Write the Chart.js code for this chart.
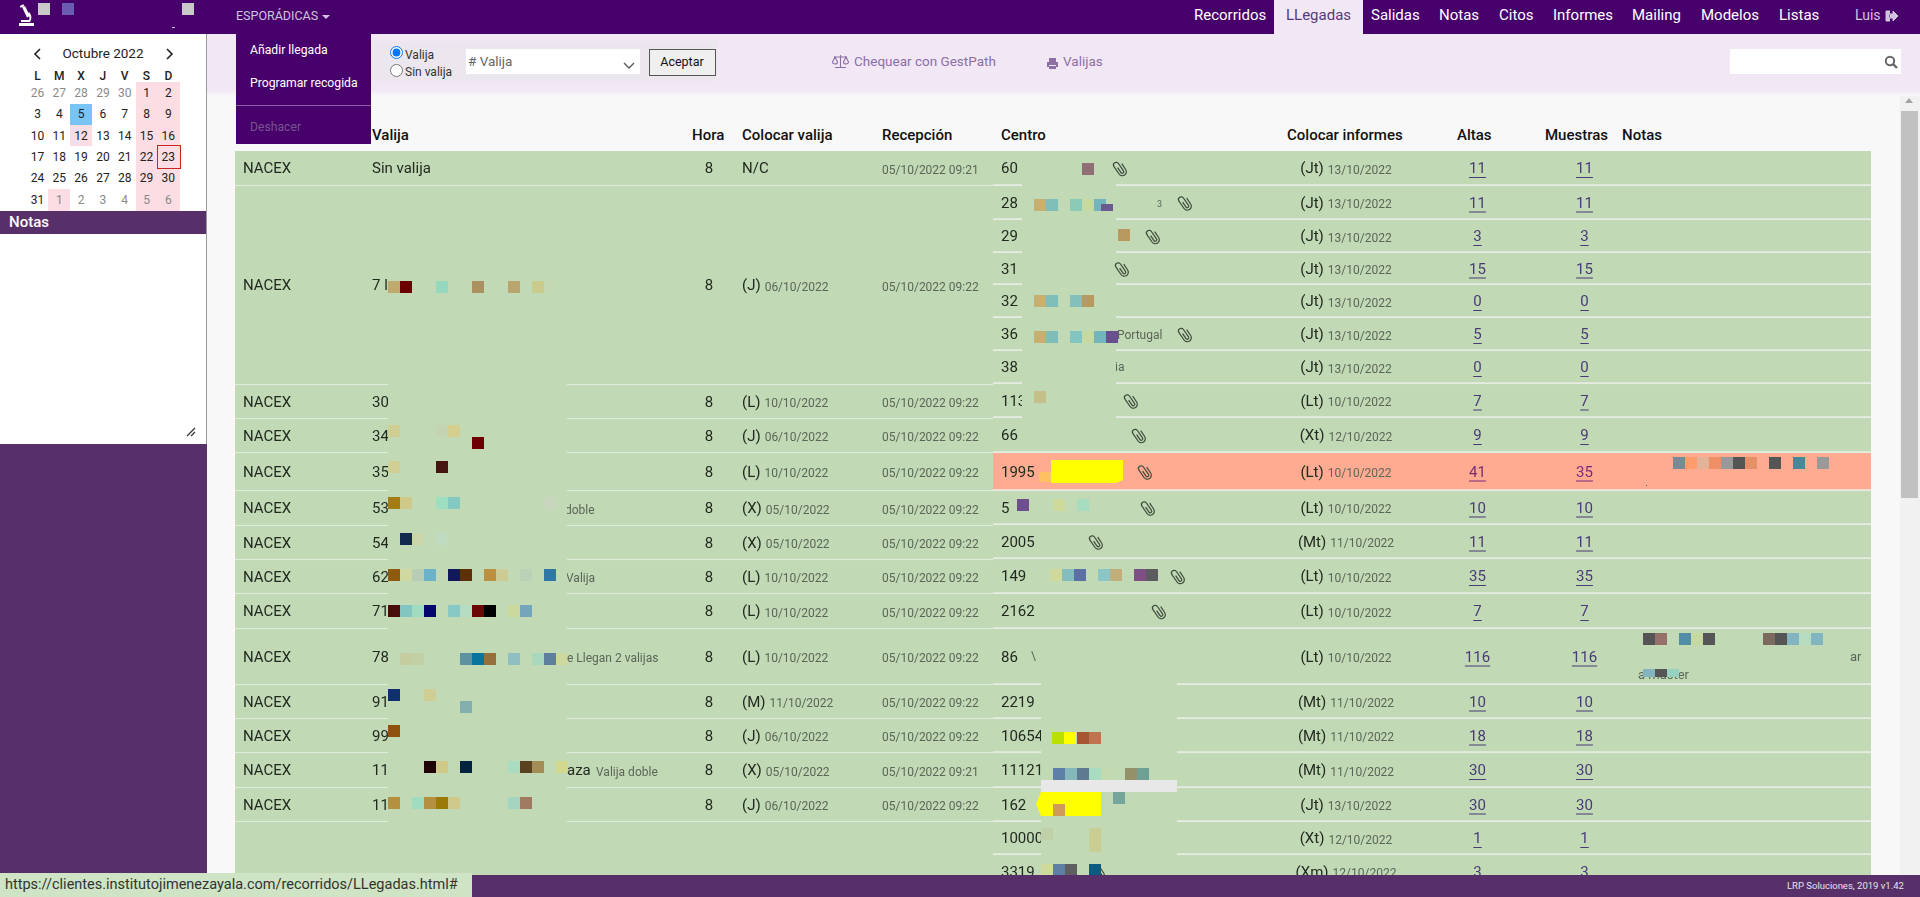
<!DOCTYPE html>
<html lang="es"><head><meta charset="utf-8"><title>LLegadas</title>
<script src="https://cdn.jsdelivr.net/npm/chart.js@4"></script>
<style>
html,body{margin:0;padding:0;width:1920px;height:897px;overflow:hidden;background:#f8f8f8;font-family:Roboto,sans-serif}
.b{position:absolute}
.t{position:absolute;white-space:nowrap;line-height:20px;height:20px}
canvas{display:block}
</style></head><body>
<div id="page"></div>
<div class="b" id="wl" style="left:235px;top:151px;width:758px;height:724px"><canvas id="cl"></canvas></div>
<div class="b" id="wr" style="left:993px;top:151px;width:878px;height:724px"><canvas id="cr"></canvas></div>
<div id="over"></div>
<script>
/* ---------- data ---------- */
const columnas = ['Valija','Hora','Colocar valija','Recepción','Centro','Colocar informes','Altas','Muestras','Notas'];
const transportista = ['NACEX','NACEX','NACEX','NACEX','NACEX','NACEX','NACEX','NACEX','NACEX','NACEX','NACEX','NACEX','NACEX','NACEX',''];
const valijaNum  = ['Sin valija','7 l','30','34','35','53','54','62','71','78','91','99','11','11',''];
const valijaHora = ['8','8','8','8','8','8','8','8','8','8','8','8','8','8',''];
const valijaDia  = ['N/C','(J)','(L)','(J)','(L)','(X)','(X)','(L)','(L)','(L)','(M)','(J)','(X)','(J)',''];
const valijaFecha= ['','06/10/2022','10/10/2022','06/10/2022','10/10/2022','05/10/2022','05/10/2022','10/10/2022','10/10/2022','10/10/2022','11/10/2022','06/10/2022','05/10/2022','06/10/2022',''];
const recepcion  = ['05/10/2022 09:21','05/10/2022 09:22','05/10/2022 09:22','05/10/2022 09:22','05/10/2022 09:22','05/10/2022 09:22','05/10/2022 09:22','05/10/2022 09:22','05/10/2022 09:22','05/10/2022 09:22','05/10/2022 09:22','05/10/2022 09:22','05/10/2022 09:21','05/10/2022 09:22',''];
const centros = ['60','28','29','31','32','36','38','113','66','1995','5','2005','149','2162','86','2219','10654','11121','162','10000','3319'];
const informeDia = ['(Jt)','(Jt)','(Jt)','(Jt)','(Jt)','(Jt)','(Jt)','(Lt)','(Xt)','(Lt)','(Lt)','(Mt)','(Lt)','(Lt)','(Lt)','(Mt)','(Mt)','(Mt)','(Jt)','(Xt)','(Xm)'];
const informeFecha = ['13/10/2022','13/10/2022','13/10/2022','13/10/2022','13/10/2022','13/10/2022','13/10/2022','10/10/2022','12/10/2022','10/10/2022','10/10/2022','11/10/2022','10/10/2022','10/10/2022','10/10/2022','11/10/2022','11/10/2022','11/10/2022','13/10/2022','12/10/2022','12/10/2022'];
const altas    = [11,11,3,15,0,5,0,7,9,41,10,11,35,7,116,10,18,30,30,1,3];
const muestras = [11,11,3,15,0,5,0,7,9,35,10,11,35,7,116,10,18,30,30,1,3];
const centroConClip = ['60','28','29','31','36','113','66','1995','5','2005','149','2162','3319'];
const centroAlerta = ['1995'];
const meses = 'Octubre 2022';
const diasSemana = ['L','M','X','J','V','S','D'];
const semanas = [[26,27,28,29,30,1,2],[3,4,5,6,7,8,9],[10,11,12,13,14,15,16],[17,18,19,20,21,22,23],[24,25,26,27,28,29,30],[31,1,2,3,4,5,6]];
const navItems = ['Recorridos','LLegadas','Salidas','Notas','Citos','Informes','Mailing','Modelos','Listas'];

/* ---------- layout (page pixels) ---------- */
const TOP = 151;
const alturaValija = [35,199,34,34,38,35,34,34,35,56,34,34,35,34,67];
const alturaCentro = [35,34,33,32,33,33,33,34,35,38,34,34,35,35,56,34,34,35,34,33,34];
const GREEN = '#c1d9b5', SALMON = '#ffab91';
const clipX = {'60':1120,'28':1185,'29':1153,'31':1122,'36':1185,'113':1131,'66':1139,'1995':1145,'5':1148,'2005':1096,'149':1178,'2162':1159,'3319':1098};
const parchesL = [[388,380,179,448]];
const parchesR = [[1022,178,94,245],[1041,632,136,243]];
const bloques = (y,list)=>list.map(([x,c,h])=>[x,y,h||12,c]);
const mosaicoL = [].concat(
 bloques(281,[[388,'#c0a96c'],[400,'#6b0000'],[436,'#95d8bd'],[472,'#ab9060'],[508,'#b9a56e'],[532,'#c9cc8c'],[544,'#c4d8b4']]),
 bloques(425,[[388,'#cfcf95'],[436,'#c5d3b5'],[448,'#d4cf8e']]), bloques(437,[[472,'#6d0000']]),
 bloques(461,[[388,'#cfcf95'],[436,'#451510']]),
 bloques(497,[[388,'#a37c14'],[400,'#cfc98a'],[436,'#9fdfc1'],[448,'#83c8c1'],[544,'#c8d6bd']]),
 bloques(533,[[400,'#122a4e'],[412,'#c9d6a9'],[436,'#c0dcc0']]),
 bloques(569,[[388,'#8d5a10'],[400,'#cfd9a0'],[412,'#b8cdb5'],[424,'#6cb2c9'],[448,'#12195a'],[460,'#5d3008'],[484,'#bb9040'],[496,'#cdcc94'],[520,'#bcd1b5'],[544,'#2f78a5']]),
 bloques(605,[[388,'#4a0c0a'],[400,'#83c5c0'],[412,'#9fdcc0'],[424,'#04066e'],[448,'#87c8c5'],[460,'#b5dcc0'],[472,'#6b0606'],[484,'#000000'],[508,'#ccd99c'],[520,'#75a5bc']]),
 bloques(653,[[400,'#c5cc9f'],[412,'#c2d0a5'],[460,'#5d93a0'],[472,'#0a759c'],[484,'#95703a'],[508,'#8fbfc0'],[532,'#a9d8be'],[544,'#5e7f9d'],[556,'#ccd89c']]),
 bloques(689,[[388,'#0f2f6d'],[424,'#cfcf95']]), bloques(701,[[460,'#83b0ad']]),
 bloques(725,[[388,'#8f520c']]),
 bloques(761,[[424,'#1f0505'],[436,'#cfc98a'],[460,'#04233f'],[508,'#a9dcc0'],[520,'#5a4220'],[532,'#a38c55'],[556,'#d2d98f']]),
 bloques(797,[[388,'#b59040'],[412,'#9fdcc0'],[424,'#b59040'],[436,'#9c7a08'],[448,'#cfc98a'],[508,'#a3d5c0'],[520,'#a07a60']])
);
const mosaicoR = [].concat(
 bloques(163,[[1082,'#8f6e74']]),
 bloques(199,[[1034,'#c5b070'],[1046,'#7fbdb8'],[1070,'#8ccab8'],[1082,'#c5d9a0'],[1094,'#72b5bd']]), bloques(204,[[1101,'#6a5a8f',7]]),
 bloques(229,[[1118,'#b89a60']]),
 bloques(295,[[1034,'#c5b070'],[1046,'#7fbdb8'],[1070,'#83bfbb'],[1082,'#b89a60']]),
 bloques(331,[[1034,'#c5b070'],[1046,'#7fbdb8'],[1070,'#83c5c0'],[1082,'#c5d9a0'],[1094,'#72b5bd'],[1106,'#6a4f8f']]),
 bloques(391,[[1034,'#c5c08a']]),
 bloques(472,[[1039,'#ffc060',10]]),
 bloques(499,[[1017,'#6c4f8c'],[1053,'#d0d99c'],[1077,'#a8dcc0']]),
 bloques(569,[[1050,'#cfd99c'],[1062,'#83bdc0'],[1074,'#5c6fa5'],[1098,'#8bc5c5'],[1110,'#c0af78'],[1134,'#7d4f85'],[1146,'#5c5c60']]),
 bloques(732,[[1052,'#b9e000'],[1064,'#ffff00'],[1077,'#a5552f'],[1089,'#bd7550']]),
 bloques(768,[[1053,'#5f80a6'],[1065,'#85b8bd'],[1077,'#5f7a90'],[1089,'#a8dcc0'],[1101,'#c3d9b0'],[1125,'#93906a'],[1137,'#6fa095']]),
 bloques(792,[[1113,'#76a59c']]),
 bloques(828,[[1041,'#c0d0a8'],[1089,'#cbce92',24]]),
 bloques(864,[[1041,'#cfd99c'],[1053,'#5f80a6'],[1065,'#5f5f60'],[1089,'#0f5a80']]),
 bloques(457,[[1673,'#7a8a95'],[1685,'#ff9c6e'],[1697,'#e2b299'],[1709,'#ef8f65'],[1721,'#999999'],[1733,'#555555'],[1745,'#e6906a'],[1769,'#555555'],[1793,'#4a8598'],[1817,'#999999']]),
 bloques(633,[[1643,'#555555'],[1655,'#96706a'],[1679,'#528ea8'],[1691,'#c5d9a0'],[1703,'#555555'],[1763,'#7d6a5e'],[1775,'#555555'],[1787,'#83b5c0'],[1799,'#b5dcc0'],[1811,'#83b5c0']]),
 bloques(669,[[1643,'#83b5c0',8],[1655,'#555555',8],[1667,'#95d0c0',8]])
);
const INK='#222a20', GRAY='#5c6658', LINK='#4a3a78';
const clipPath = new Path2D('M-1.5-2V4a1.5 1.5 0 0 0 3 0V-5a2.7 2.7 0 0 0-5.4 0V4a4 4 0 0 0 8 0V-3');

/* ---------- chart helpers ---------- */
function baseOpts(minX,maxX){
  return {responsive:true,maintainAspectRatio:false,animation:false,events:[],
   layout:{padding:0},
   plugins:{legend:{display:false},tooltip:{enabled:false},title:{display:false}},
   scales:{x:{display:false,stacked:true,grid:{display:false}},
           y:{display:false,stacked:true,reverse:true,min:0,max:724,grid:{display:false}},
           col:{type:'linear',axis:'x',display:false,offset:false,min:minX,max:maxX}}};
}
function px(c,x){return c.scales.col.getPixelForValue(x);}
function py(c,y){return c.scales.y.getPixelForValue(y-TOP);}
function txt(ctx,s,x,y,size,color,align,weight){
  ctx.font=(weight||400)+' '+size+'px Roboto';ctx.fillStyle=color;ctx.textAlign=align||'left';ctx.textBaseline='middle';
  ctx.fillText(s,x,y+0.5);
}
function diaFecha(ctx,d,f,x,y,center){
  ctx.font='400 15px Roboto';const w1=ctx.measureText(d).width;
  ctx.font='400 12px Roboto';const w2=f?ctx.measureText(f).width+4:0;
  const x0=center?x-(w1+w2)/2:x;
  txt(ctx,d,x0,y,15,INK);
  if(f)txt(ctx,f,x0+w1+4,y+1,12,GRAY);
}
function link(ctx,n,x,y,color){
  const s=String(n);txt(ctx,s,x,y,15,color,'center');
  const w=ctx.measureText(s).width;ctx.fillStyle=color;ctx.fillRect(x-w/2,y+8,w,1);
}
function bloquesDraw(c,list){
  const ctx=c.ctx;
  list.forEach(([x,y,h,col])=>{ctx.fillStyle=col;ctx.fillRect(px(c,x),py(c,y),12,h);});
}
function parches(c,list){
  c.ctx.fillStyle=GREEN;
  list.forEach(([x,y,w,h])=>c.ctx.fillRect(px(c,x),py(c,y),w,h));
}
function filas(alturas,colorDe,borde,grosor){
  return alturas.map((h,i)=>({label:'fila '+i,data:[h],stack:'tabla',backgroundColor:colorDe(i),
    borderColor:borde,borderWidth:{top:0,left:0,right:0,bottom:grosor},borderSkipped:false,
    barPercentage:1,categoryPercentage:1,xAxisID:'x',yAxisID:'y'}));
}
function centros_y(alturas){let a=TOP;return alturas.map(h=>{const m=a+h/2;a+=h;return m;});}

/* ---------- left chart: valijas ---------- */
const yVal = centros_y(alturaValija);
new Chart(document.getElementById('cl'),{type:'bar',
 data:{labels:['Valijas'],datasets:filas(alturaValija,()=>GREEN,'#eaf0e6',1)},
 options:baseOpts(235,993),
 plugins:[{id:'celdasValija',afterDatasetsDraw(c){
   const ctx=c.ctx;ctx.save();
   transportista.forEach((tr,i)=>{
     if(!tr)return;const y=py(c,yVal[i])+0.5;
     txt(ctx,tr,px(c,243),y,15,INK);
     txt(ctx,valijaNum[i],px(c,372),y,15,INK);
     txt(ctx,valijaHora[i],px(c,709),y,15,INK,'center');
     diaFecha(ctx,valijaDia[i],valijaFecha[i],px(c,742),y,false);
     txt(ctx,recepcion[i],px(c,882),y+1,12,GRAY);
   });
   parches(c,parchesL);
   bloquesDraw(c,mosaicoL);
   ctx.save();ctx.beginPath();ctx.rect(px(c,567),0,400,c.height);ctx.clip();
   txt(ctx,'doble',px(c,565),py(c,yVal[5])+1.5,12,GRAY);
   txt(ctx,'Valija',px(c,566),py(c,yVal[7])+1.5,12,GRAY);
   txt(ctx,'e Llegan 2 valijas',px(c,567),py(c,yVal[9])+1.5,12,GRAY);
   txt(ctx,'aza',px(c,567),py(c,yVal[12])+0.5,15,INK);
   txt(ctx,'Valija doble',px(c,596),py(c,yVal[12])+1.5,12,GRAY);
   ctx.restore();ctx.restore();
 }}]});

/* ---------- right chart: centros ---------- */
const yCen = centros_y(alturaCentro);
new Chart(document.getElementById('cr'),{type:'bar',
 data:{labels:['Centros'],datasets:filas(alturaCentro,i=>centroAlerta.includes(centros[i])?SALMON:GREEN,'#e6ece2',2)},
 options:baseOpts(993,1871),
 plugins:[{id:'celdasCentro',afterDatasetsDraw(c){
   const ctx=c.ctx;ctx.save();
   centros.forEach((ce,i)=>{
     const y=py(c,yCen[i])+0.5;
     txt(ctx,ce,px(c,1001),y,15,INK);
     diaFecha(ctx,informeDia[i],informeFecha[i],px(c,1346),y,true);
     const col=centroAlerta.includes(ce)?'#7a2a7a':LINK;
     link(ctx,altas[i],px(c,1477.5),y,col);
     link(ctx,muestras[i],px(c,1584.5),y,col);
   });
   txt(ctx,'Portugal',px(c,1117),py(c,335),12,GRAY);
   txt(ctx,'ia',px(c,1115),py(c,367),12,GRAY);
   txt(ctx,'3',px(c,1157),py(c,204),9,GRAY);
   txt(ctx,'\\',px(c,1031),py(c,656),12,GRAY);
   txt(ctx,'ar',px(c,1850),py(c,657),13,GRAY);
   txt(ctx,'a master',px(c,1638),py(c,675),13,GRAY);
   parches(c,parchesR);
   centroConClip.forEach(k=>{
     const i=centros.indexOf(k);
     ctx.save();ctx.translate(px(c,clipX[k]),py(c,yCen[i]));ctx.rotate(-0.6);
     ctx.strokeStyle='#3d4a3a';ctx.lineWidth=1.2;ctx.stroke(clipPath);ctx.restore();
   });
   /* tachaduras amarillas */
   ctx.fillStyle='#ffff00';
   ctx.beginPath();ctx.moveTo(px(c,1051),py(c,460));ctx.lineTo(px(c,1123),py(c,460));ctx.lineTo(px(c,1123),py(c,480));
   ctx.lineTo(px(c,1116),py(c,483));ctx.lineTo(px(c,1051),py(c,483));ctx.closePath();ctx.fill();
   ctx.beginPath();ctx.moveTo(px(c,1041),py(c,792));ctx.lineTo(px(c,1101),py(c,792));ctx.lineTo(px(c,1101),py(c,816));
   ctx.lineTo(px(c,1041),py(c,816));ctx.lineTo(px(c,1036),py(c,804));ctx.closePath();ctx.fill();
   ctx.fillStyle='#e8e8e8';ctx.fillRect(px(c,1041),py(c,780),136,12);
   bloquesDraw(c,mosaicoR);
   ctx.fillStyle='#d09a5a';ctx.fillRect(px(c,1053),py(c,804),12,12);
   ctx.fillStyle='#555';ctx.fillRect(px(c,1646),py(c,485),1,1);
   ctx.restore();
 }}]});

/* ---------- page chrome ---------- */
const page=document.getElementById('page'), over=document.getElementById('over');
function box(x,y,w,h,bg,extra,host){const d=document.createElement('div');d.className='b';
  d.style.cssText=`left:${x}px;top:${y}px;width:${w}px;height:${h}px;background:${bg};`+(extra||'');(host||page).appendChild(d);return d;}
function T(x,cy,s,size,color,o){o=o||{};const d=document.createElement('div');d.className='t';d.textContent=s;
  d.style.cssText=`left:${x}px;top:${cy-10}px;font-size:${size}px;color:${color};font-weight:${o.w||400};`+(o.c?'transform:translateX(-50%);':'');
  (o.host||page).appendChild(d);return d;}
function svg(x,y,w,h,inner,host){const d=document.createElement('div');d.className='b';d.style.cssText=`left:${x}px;top:${y}px;width:${w}px;height:${h}px`;
  d.innerHTML=`<svg xmlns="http://www.w3.org/2000/svg" width="${w}" height="${h}" viewBox="0 0 ${w} ${h}">${inner}</svg>`;(host||page).appendChild(d);return d;}

const PUR='#47006b', PUR2='#57306a';
/* toolbar */
box(207,34,1713,56,'#f2e7f5');
box(207,90,1713,6,'linear-gradient(#f2e7f5,#f8f8f8)');
box(371,41,346,40,'#ece6ee');
/* topbar */
box(0,0,1920,34,PUR);
box(1274,0,89,34,'#f2e7f5');
svg(18,4,20,24,'<g fill="#fff"><rect x="1" y="19" width="15" height="3"/><rect x="3" y="16" width="9" height="2"/><path d="M4 3l3-1 5 10-3 1.5z"/><path d="M11 8c3 3 3 7 1 10h-2c2-3 2-5 0-8z"/><rect x="2" y="1" width="4" height="2" transform="rotate(-25 4 2)"/></g>');
box(38,3,12,12,'#c9c9c9'); box(62,3,12,12,'#6a5cb0'); box(182,3,12,12,'#c9c9c9'); box(172,27,3,1,'#ccc');
T(236,16,'ESPORÁDICAS',12.5,'#d3c3de');
box(322,14,0,0,'transparent','border-left:4px solid transparent;border-right:4px solid transparent;border-top:4px solid #d3c3de;width:0;height:0;left:322px;top:15px;');
const navX=[1194,1286,1371,1439,1499,1553,1632,1701,1779];
navItems.forEach((n,i)=>T(navX[i],15,n,15,n==='LLegadas'?'#5a3a75':'#ffffff'));
T(1855,15,'Luis',14,'#d3c3de');
svg(1884,8,14,14,'<path d="M6 2H2v10h4M5 5h4V2l5 5-5 5V9H5z" fill="#d3c3de" stroke="#d3c3de"/>');
/* sidebar */
box(0,34,206,410,'#fff');
box(206,34,1,841,'#999');
box(0,444,207,453,PUR2);
box(0,211,206,23,PUR2);
T(9,222,'Notas',15,'#fff',{w:500});
svg(186,422,10,10,'<path d="M1 9l8-8M5 9l4-4" stroke="#333" stroke-width="1.2"/>');
/* calendar */
svg(33,46,10,14,'<path d="M7 2L2 7l5 5" fill="none" stroke="#222" stroke-width="1.6"/>');
svg(164,46,10,14,'<path d="M3 2l5 5-5 5" fill="none" stroke="#222" stroke-width="1.6"/>');
T(103,53,meses,13.5,'#222',{c:1});
const cx=i=>37.5+21.8*i, rowY=[93,114,136,157,178,200];
box(136,82,44,129,'#fbdde3');
box(70,104,22,21,'#78c4f5');
box(70,125,22,21,'#fbdde3');
box(48,189,22,22,'#fbdde3');
box(157,145,22,22,'transparent','border:1px solid #c22;');
diasSemana.forEach((d,i)=>T(cx(i),76,d,12,'#222',{c:1,w:500}));
semanas.forEach((w,r)=>w.forEach((d,i)=>{
  const fuera=(r===0&&i<5)||(r===5&&i>0);
  T(cx(i),rowY[r],String(d),12,fuera?'#8a8a8a':'#222',{c:1});
}));
/* dropdown */
box(236,34,135,110,PUR);
T(250,50,'Añadir llegada',12.2,'#fff');
T(250,83,'Programar recogida',12.2,'#fff');
box(236,105,135,1,'#8a5fa8');
T(250,127,'Deshacer',12.2,'#76558f');
/* filter bar */
const r1=document.createElement('input');r1.type='radio';r1.checked=true;r1.className='b';r1.style.cssText='left:390px;top:46px;margin:0;width:13px;height:13px';page.appendChild(r1);
const r2=document.createElement('input');r2.type='radio';r2.className='b';r2.style.cssText='left:390px;top:64px;margin:0;width:13px;height:13px';page.appendChild(r2);
T(405,55,'Valija',12,'#333');
T(405,72,'Sin valija',12,'#333');
box(466,49,174,25,'#fff');
T(468,61,'# Valija',13.5,'#666');
svg(623,56,12,10,'<path d="M1 2l5 5 5-5" fill="none" stroke="#555" stroke-width="1.3"/>');
box(649,49,65,25,'#efefef','border:1px solid #555;');
T(682,62,'Aceptar',12.5,'#111',{c:1});
svg(832,54,17,15,'<g fill="none" stroke="#8d6fa5" stroke-width="1.1"><path d="M8.5 1v12M3 13.5h11M2 3h13"/><path d="M0.5 8l2.5-5 2.5 5a2.5 2 0 0 1-5 0zM11.5 8l2.5-5 2.5 5a2.5 2 0 0 1-5 0z"/></g>');
T(854,61,'Chequear con GestPath',13.5,'#8d6fa5');
svg(1046,55,13,13,'<path d="M3 1h7v4H3zM1 5h11v5h-2V8H3v2H1zM3 9h7v3H3z" fill="#8d6fa5"/>');
T(1063,61,'Valijas',13.5,'#8d6fa5');
box(1730,49,171,25,'#fff');
svg(1884,54,14,14,'<circle cx="6" cy="6" r="4.2" fill="none" stroke="#666" stroke-width="2"/><path d="M9 9l4 4" stroke="#666" stroke-width="2.4"/>');
/* table header */
const hx=[372,692,742,882,1001,1287,1457,1545,1622];
columnas.forEach((c,i)=>T(hx[i],135,c,15,'#111',{w:500}));
/* scrollbar */
box(1900,96,20,779,'#f1f1f1');
box(1901,111,17,387,'#c1c1c1');
box(1905,98,0,0,'transparent','width:0;height:0;left:1905px;top:98px;background:none;border-left:4.5px solid transparent;border-right:4.5px solid transparent;border-bottom:5px solid #a3a3a3;');
/* footer + status */
box(0,875,1920,22,PUR2,'',over);
T(1787,886,'LRP Soluciones, 2019 v1.42',9.5,'#e8e0ea',{host:over});
box(0,873,472,24,'#cfe4c4','',over);
T(5,885,'https://clientes.institutojimenezayala.com/recorridos/LLegadas.html#',14.5,'#333',{host:over});
</script>
</body></html>
